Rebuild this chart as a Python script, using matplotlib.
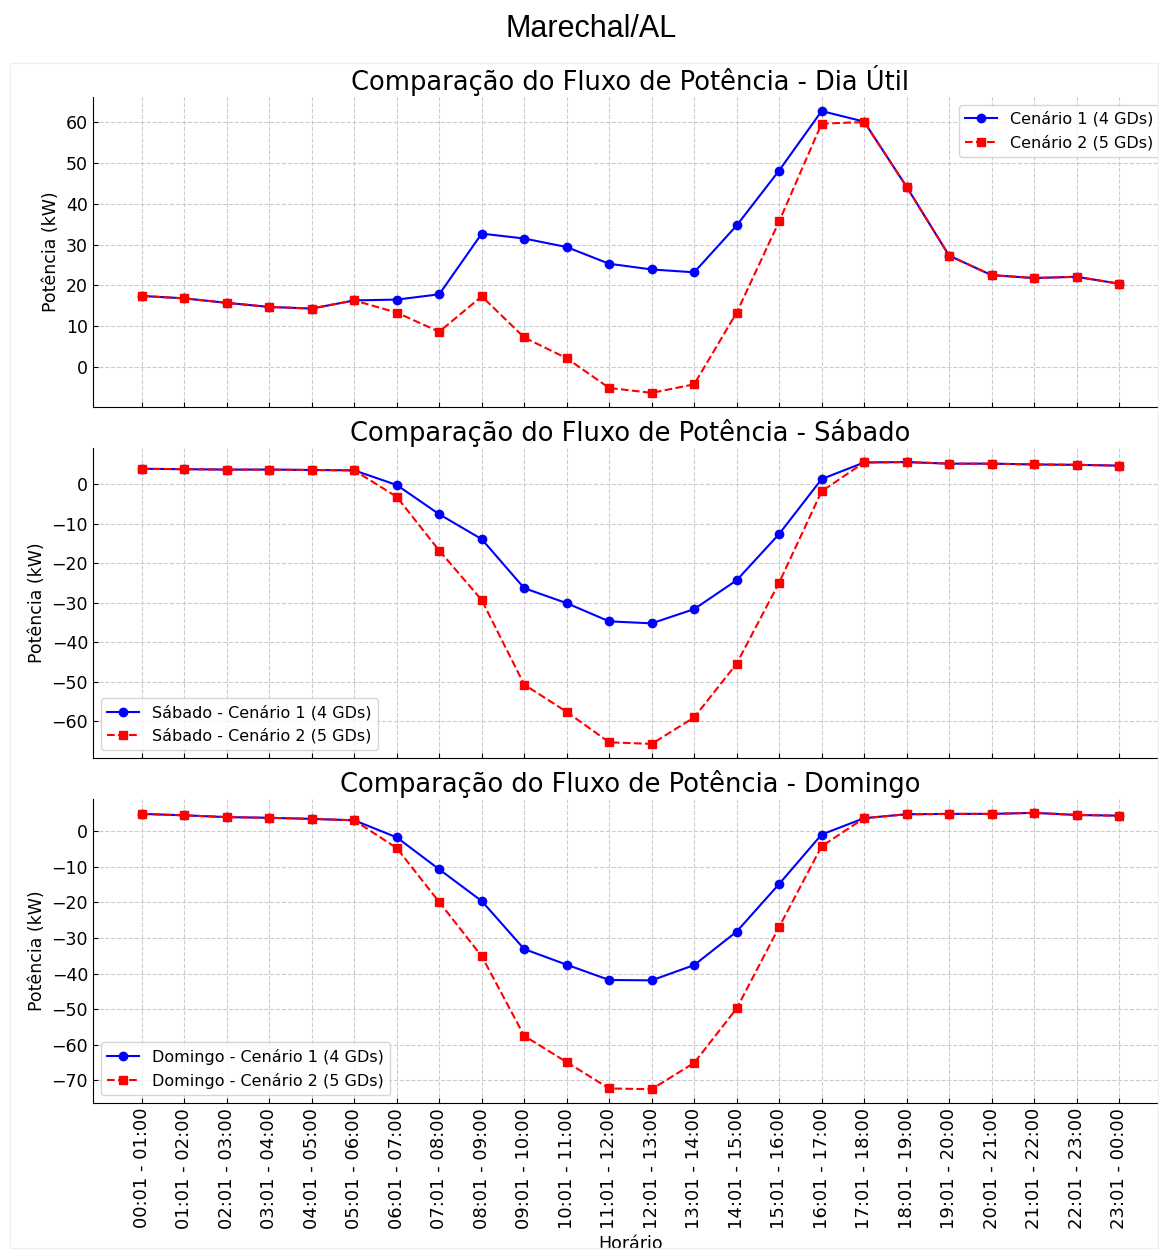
import matplotlib.pyplot as plt
from matplotlib.ticker import MultipleLocator
import numpy as np

horarios = ["00:01 - 01:00", "01:01 - 02:00", "02:01 - 03:00", "03:01 - 04:00",
            "04:01 - 05:00", "05:01 - 06:00", "06:01 - 07:00", "07:01 - 08:00",
            "08:01 - 09:00", "09:01 - 10:00", "10:01 - 11:00", "11:01 - 12:00",
            "12:01 - 13:00", "13:01 - 14:00", "14:01 - 15:00", "15:01 - 16:00",
            "16:01 - 17:00", "17:01 - 18:00", "18:01 - 19:00", "19:01 - 20:00",
            "20:01 - 21:00", "21:01 - 22:00", "22:01 - 23:00", "23:01 - 00:00"]

util_c1 = [17.4, 16.8, 15.7, 14.7, 14.3, 16.3, 16.5, 17.8, 32.7, 31.5, 29.4, 25.3,
           23.9, 23.2, 34.7, 48.2, 62.8, 60.2, 44.2, 27.3, 22.5, 21.8, 22.1, 20.4]
util_c2 = [17.4, 16.8, 15.7, 14.7, 14.3, 16.3, 13.3, 8.6, 17.3, 7.2, 2.1, -5.2,
           -6.4, -4.3, 13.3, 35.7, 59.7, 60.1, 44.2, 27.3, 22.5, 21.8, 22.1, 20.4]

sab_c1 = [3.9, 3.8, 3.7, 3.7, 3.6, 3.5, -0.2, -7.6, -13.9, -26.3, -30.1, -34.7,
          -35.2, -31.6, -24.3, -12.6, 1.3, 5.5, 5.6, 5.2, 5.2, 5.0, 4.9, 4.7]
sab_c2 = [3.9, 3.8, 3.7, 3.7, 3.6, 3.5, -3.2, -16.8, -29.3, -50.7, -57.6, -65.3,
          -65.7, -59.0, -45.4, -24.9, -1.8, 5.5, 5.6, 5.2, 5.2, 5.0, 4.9, 4.7]

dom_c1 = [4.9, 4.5, 4.0, 3.8, 3.5, 3.1, -1.7, -10.7, -19.6, -33.1, -37.5, -41.8,
          -41.9, -37.6, -28.2, -14.8, -0.9, 3.7, 4.8, 4.9, 4.9, 5.2, 4.6, 4.4]
dom_c2 = [4.9, 4.5, 4.0, 3.8, 3.5, 3.1, -4.7, -19.9, -35.1, -57.5, -64.9, -72.3,
          -72.5, -65.1, -49.8, -26.9, -4.2, 3.7, 4.8, 4.9, 4.9, 5.2, 4.6, 4.4]

x = np.arange(len(horarios))

fig = plt.figure(figsize=(11.59, 12.51), dpi=100)
fig.text(0.51, 0.977, "Marechal/AL", ha="center", va="center",
         fontsize=22, family="Liberation Sans")

# moldura bem clara em volta do gráfico
fig.add_artist(plt.Rectangle((0.009, 0.002), 0.99, 0.948, transform=fig.transFigure,
                             fill=False, ec="#f0f0f0", lw=1))

rects = [[0.0802, 0.6747, 0.9275, 0.2478],
         [0.0802, 0.3941, 0.9275, 0.2478],
         [0.0802, 0.1183, 0.9275, 0.2430]]

paineis = [
    ("Comparação do Fluxo de Potência - Dia Útil", util_c1, util_c2,
     "Cenário 1 (4 GDs)", "Cenário 2 (5 GDs)", "upper right"),
    ("Comparação do Fluxo de Potência - Sábado", sab_c1, sab_c2,
     "Sábado - Cenário 1 (4 GDs)", "Sábado - Cenário 2 (5 GDs)", "lower left"),
    ("Comparação do Fluxo de Potência - Domingo", dom_c1, dom_c2,
     "Domingo - Cenário 1 (4 GDs)", "Domingo - Cenário 2 (5 GDs)", "lower left"),
]

for i, (titulo, c1, c2, lab1, lab2, loc) in enumerate(paineis):
    ax = fig.add_axes(rects[i])
    ax.plot(x, c1, "-o", color="blue", lw=1.5, ms=6, label=lab1)
    ax.plot(x, c2, "--s", color="red", lw=1.5, ms=6, label=lab2)
    ax.set_title(titulo, fontsize=18.5, pad=5)
    ax.set_ylabel("Potência (kW)", fontsize=12.5)
    ax.grid(True, ls="--", color="#cccccc", lw=0.8)
    ax.set_xticks(x)
    ax.yaxis.set_major_locator(MultipleLocator(10))
    ax.tick_params(direction="in", labelsize=12.5)
    ax.spines["top"].set_visible(False)
    ax.spines["right"].set_visible(False)
    ax.legend(loc=loc, fontsize=11.5)
    if i < 2:
        ax.set_xticklabels([])
    else:
        ax.set_xticklabels(horarios, rotation=90, fontsize=13)
        ax.set_xlabel("Horário", fontsize=12.5)

fig.savefig("out.png", dpi=100)
